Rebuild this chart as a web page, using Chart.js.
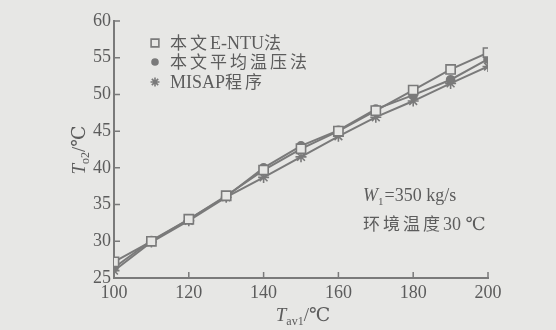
<!DOCTYPE html>
<html>
<head>
<meta charset="utf-8">
<script src="https://cdn.jsdelivr.net/npm/chart.js@4.4.1/dist/chart.umd.min.js"></script>
<style>
  html, body { margin: 0; padding: 0; background: #e7e7e5; }
  #wrap { width: 556px; height: 330px; }
</style>
</head>
<body>
<div id="wrap"><canvas id="chart"></canvas></div>
<script>
// ===== data =====
const tav1 = [100, 110, 120, 130, 140, 150, 160, 170, 180, 190, 200];
const entu  = [27.2, 30.0, 33.0, 36.2, 39.7, 42.6, 45.0, 47.8, 50.6, 53.4, 55.7];
const meanT = [26.4, 30.1, 33.0, 36.1, 40.0, 43.0, 45.1, 48.0, 49.9, 52.0, 54.8];
const misap = [26.0, 29.9, 32.8, 36.0, 38.7, 41.5, 44.3, 46.9, 49.1, 51.5, 53.8];
const seriesNames = ['本文E-NTU法', '本文平均温压法', 'MISAP程序'];
const xTicks = [100, 120, 140, 160, 180, 200];
const yTicks = [25, 30, 35, 40, 45, 50, 55, 60];

const INK = '#5c5c5c';
const LINE = '#7a7a7a';
const BG = '#e7e7e5';
const SERIF = '"Liberation Serif", "DejaVu Serif", serif';
const CJK = '"Noto Sans CJK SC", sans-serif';

const isCJK = ch => /[\u3000-\u9fff\uff00-\uffef]/.test(ch);

// draws mixed latin / chinese text starting at x (left), middle baseline
function drawMixed(ctx, text, x, y, size) {
  ctx.textBaseline = 'middle';
  ctx.textAlign = 'left';
  for (const ch of text) {
    if (isCJK(ch)) {
      ctx.font = `${size - 1}px ${CJK}`;
      ctx.fillText(ch, x, y);
      x += size + 2;
    } else {
      ctx.font = `${size}px ${SERIF}`;
      ctx.fillText(ch, x, y + 1);
      x += ctx.measureText(ch).width;
    }
  }
  return x;
}

// italic symbol with subscript, then rest ("T" "o2" "/℃")
function drawSymbol(ctx, sym, sub, rest, x, y, size) {
  ctx.textBaseline = 'alphabetic';
  ctx.textAlign = 'left';
  ctx.font = `italic ${size}px ${SERIF}`;
  ctx.fillText(sym, x, y);
  x += ctx.measureText(sym).width;
  ctx.font = `${Math.round(size * 0.62)}px ${SERIF}`;
  ctx.fillText(sub, x, y + 4);
  x += ctx.measureText(sub).width;
  ctx.font = `${size}px ${SERIF}`;
  ctx.fillText(rest, x, y);
  return x + ctx.measureText(rest).width;
}
function symbolWidth(ctx, sym, sub, rest, size) {
  ctx.font = `italic ${size}px ${SERIF}`;
  let w = ctx.measureText(sym).width;
  ctx.font = `${Math.round(size * 0.62)}px ${SERIF}`;
  w += ctx.measureText(sub).width;
  ctx.font = `${size}px ${SERIF}`;
  return w + ctx.measureText(rest).width;
}

// ===== extras: inward ticks, axis titles, legend, notes =====
const extras = {
  id: 'extras',
  beforeDraw(chart) {
    const { ctx, width, height } = chart;
    ctx.save();
    ctx.fillStyle = BG;
    ctx.fillRect(0, 0, width, height);
    ctx.restore();
  },
  afterDraw(chart) {
    const { ctx, scales: { x, y }, chartArea: a } = chart;
    ctx.save();
    ctx.strokeStyle = LINE;
    ctx.lineWidth = 1.5;
    ctx.beginPath();
    xTicks.forEach(v => {
      if (v === x.min) return;
      const px = x.getPixelForValue(v);
      ctx.moveTo(px, a.bottom); ctx.lineTo(px, a.bottom - 6);
    });
    yTicks.forEach(v => {
      if (v === y.min) return;
      const py = y.getPixelForValue(v);
      ctx.moveTo(a.left, py); ctx.lineTo(a.left + 6, py);
    });
    ctx.stroke();

    ctx.fillStyle = INK;
    // x title
    const xw = symbolWidth(ctx, 'T', 'av1', '/℃', 19);
    drawSymbol(ctx, 'T', 'av1', '/℃', 303 - xw / 2, 321, 19);
    // y title (rotated)
    ctx.save();
    ctx.translate(79, 150);
    ctx.rotate(-Math.PI / 2);
    const yw = symbolWidth(ctx, 'T', 'o2', '/℃', 19);
    drawSymbol(ctx, 'T', 'o2', '/℃', -yw / 2, 6, 19);
    ctx.restore();

    // legend
    const rows = [43, 62, 82];
    chart.data.datasets.forEach((ds, i) => {
      ctx.strokeStyle = ds.pointBorderColor;
      ctx.fillStyle = ds.pointBackgroundColor;
      ctx.lineWidth = ds.pointBorderWidth;
      Chart.helpers.drawPoint(ctx, {
        pointStyle: ds.pointStyle,
        radius: ds.pointRadius - 1,
        rotation: 0,
        borderWidth: ds.pointBorderWidth
      }, 155, rows[i]);
      ctx.fillStyle = INK;
      drawMixed(ctx, seriesNames[i], 170, rows[i], 18);
    });

    // notes
    ctx.fillStyle = INK;
    const nx = drawSymbol(ctx, 'W', '1', '', 363, 201, 18);
    ctx.font = `18px ${SERIF}`;
    ctx.fillText('=350 kg/s', nx + 1, 201);
    drawMixed(ctx, '环境温度30 ℃', 363, 224, 18);
    ctx.restore();
  }
};

function ds(label, data, style, radius, fill) {
  return {
    label,
    data: tav1.map((t, i) => ({ x: t, y: data[i] })),
    borderColor: LINE,
    borderWidth: 2,
    pointStyle: style,
    pointRadius: radius,
    pointBorderColor: LINE,
    pointBackgroundColor: fill,
    pointBorderWidth: 1.6,
    tension: 0
  };
}

new Chart(document.getElementById('chart'), {
  type: 'line',
  data: {
    datasets: [
      ds(seriesNames[0], entu, 'rect', 6.5, BG),
      ds(seriesNames[1], meanT, 'circle', 4, LINE),
      ds(seriesNames[2], misap, 'star', 5.5, LINE)
    ]
  },
  options: {
    responsive: true,
    maintainAspectRatio: false,
    animation: false,
    layout: { padding: { left: 0, top: 21, right: 68, bottom: 0 } },
    plugins: { legend: { display: false }, tooltip: { enabled: false } },
    scales: {
      x: {
        type: 'linear',
        min: 100, max: 200,
        afterBuildTicks: s => { s.ticks = xTicks.map(v => ({ value: v })); },
        afterFit: s => { s.height = 52; },
        grid: { display: false, drawTicks: false },
        border: { color: LINE, width: 2 },
        ticks: { color: INK, padding: 4, font: { family: SERIF, size: 18 } }
      },
      y: {
        min: 25, max: 60,
        afterBuildTicks: s => { s.ticks = yTicks.map(v => ({ value: v })); },
        afterFit: s => { s.width = 114; },
        grid: { display: false, drawTicks: false },
        border: { color: LINE, width: 2 },
        ticks: { color: INK, padding: 3, font: { family: SERIF, size: 18 } }
      }
    }
  },
  plugins: [extras]
});
</script>
</body>
</html>
